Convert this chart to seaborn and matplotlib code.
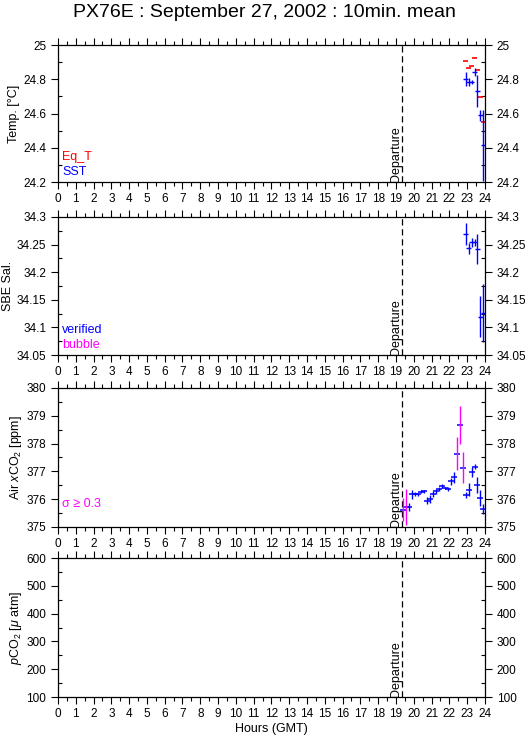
import matplotlib
matplotlib.use("Agg")
import matplotlib.pyplot as plt
import seaborn as sns
from matplotlib.ticker import MultipleLocator, FuncFormatter

# valeurs
departure = 19.33
hours_tsg = [22.92, 23.08, 23.25, 23.42, 23.58, 23.75, 23.92]
eq_temp = [24.907, 24.865, 24.878, 24.923, 24.853, 24.697, 24.552]
sst = [24.801, 24.782, 24.784, 24.842, 24.733, 24.590, 24.414]
sst_err = [0.040, 0.023, 0.011, 0.021, 0.094, 0.031, 0.208]
sal = [34.269, 34.243, 34.254, 34.254, 34.242, 34.119, 34.126]
sal_err = [0.020, 0.010, 0.008, 0.006, 0.028, 0.037, 0.053]

hours_air = [19.42, 19.58, 19.75, 19.92, 20.08, 20.25, 20.42, 20.58, 20.75, 20.92,
             21.08, 21.25, 21.42, 21.58, 21.75, 21.92, 22.08, 22.25, 22.42, 22.58,
             22.75, 22.92, 23.08, 23.25, 23.42, 23.58, 23.75, 23.92]
air_co2 = [375.62, 375.72, 375.73, 376.18, 376.18, 376.18, 376.27, 376.28, 375.94, 376.00,
           376.18, 376.28, 376.36, 376.47, 376.40, 376.38, 376.64, 376.79, 377.64, 378.67,
           377.13, 376.15, 376.34, 376.99, 377.17, 376.51, 376.04, 375.64]
air_err = [0.42, 0.65, 0.15, 0.16, 0.07, 0.06, 0.05, 0.05, 0.13, 0.14,
           0.11, 0.09, 0.07, 0.07, 0.05, 0.07, 0.13, 0.20, 0.58, 0.67,
           0.56, 0.10, 0.24, 0.18, 0.08, 0.28, 0.29, 0.19]

hour_ticks = list(range(0, 25))
dash_half = 0.13  # demi-largeur des tirets horizontaux (heures)

RED = "#ff0000"
BLUE = "#0000ff"
MAGENTA = "#ff00ff"

sns.set_style("ticks", {"axes.edgecolor": "black", "xtick.color": "black",
                        "ytick.color": "black", "text.color": "black",
                        "axes.labelcolor": "black"})
plt.rcParams['font.family'] = ['Liberation Sans', 'DejaVu Sans']
plt.rcParams['mathtext.fontset'] = 'custom'
plt.rcParams['mathtext.rm'] = 'Liberation Sans'
plt.rcParams['mathtext.it'] = 'Liberation Sans:italic'

fig = plt.figure(figsize=(5.29, 7.39), dpi=100)
left, width = 0.1096, 0.807
boxes = [(0.7537, 0.1854), (0.5196, 0.1868), (0.2869, 0.1881), (0.0568, 0.1881)]
axes = [fig.add_axes([left, b, width, h]) for b, h in boxes]

ylims = [(24.2, 25), (34.05, 34.3), (375, 380), (100, 600)]
ymajor = [0.2, 0.05, 1, 100]
yminor = [0.1, 0.025, 0.5, 50]
ylabels = ["Temp. [°C]", "SBE Sal.", r"Air $\mathit{x}$CO$_2$ [ppm]",
           r"$\mathit{p}$CO$_2$ [$\mu$ atm]"]

for ax, yl, mj, mn, lab in zip(axes, ylims, ymajor, yminor, ylabels):
    ax.set_xlim(0, 24)
    ax.set_ylim(*yl)
    ax.xaxis.set_minor_locator(MultipleLocator(0.5))
    ax.set_xticks(hour_ticks)
    ax.set_xticklabels([str(h) for h in hour_ticks])
    ax.yaxis.set_major_locator(MultipleLocator(mj))
    ax.yaxis.set_minor_locator(MultipleLocator(mn))
    ax.yaxis.set_major_formatter(FuncFormatter(lambda v, p: "%g" % round(v, 3)))
    ax.tick_params(axis='x', which='both', top=True, bottom=True, direction='out',
                   labelsize=8.5, pad=3)
    ax.tick_params(axis='x', which='major', length=5, width=0.8)
    ax.tick_params(axis='x', which='minor', length=3, width=0.8)
    ax.tick_params(axis='y', which='both', left=True, right=True,
                   labelleft=True, labelright=True, labelsize=8.5)
    ax.tick_params(axis='y', which='major', direction='out', length=5, width=0.8)
    ax.tick_params(axis='y', which='minor', direction='in', length=3, width=0.8)
    for s in ax.spines.values():
        s.set_visible(True)
        s.set_linewidth(0.9)
    ax.set_ylabel(lab, fontsize=9, labelpad=2)
    ax.axvline(departure, color="black", ls=(0, (5, 3)), lw=0.9)
    ax.text(departure, yl[0], "Departure", rotation=90, ha='right', va='bottom',
            fontsize=9)

# panneau 1 : temperatures
ax = axes[0]
ax.errorbar(hours_tsg, eq_temp, xerr=dash_half, fmt='none', ecolor=RED, elinewidth=1.2)
ax.errorbar(hours_tsg, sst, xerr=dash_half, yerr=sst_err, fmt='none', ecolor=BLUE,
            elinewidth=1)
ax.text(0.01, 0.18, "Eq_T", color=RED, transform=ax.transAxes, fontsize=9, va='center')
ax.text(0.01, 0.07, "SST", color=BLUE, transform=ax.transAxes, fontsize=9, va='center')

# panneau 2 : salinite
ax = axes[1]
ax.errorbar(hours_tsg, sal, xerr=dash_half, yerr=sal_err, fmt='none', ecolor=BLUE,
            elinewidth=1)
ax.text(0.01, 0.18, "verified", color=BLUE, transform=ax.transAxes, fontsize=9, va='center')
ax.text(0.01, 0.07, "bubble", color=MAGENTA, transform=ax.transAxes, fontsize=9, va='center')

# panneau 3 : xCO2 air (barre magenta si sigma >= 0.3)
ax = axes[2]
err_colors = [MAGENTA if e >= 0.3 else BLUE for e in air_err]
ax.vlines(hours_air, [v - e for v, e in zip(air_co2, air_err)],
          [v + e for v, e in zip(air_co2, air_err)], colors=err_colors, lw=1)
sns.scatterplot(x=hours_air, y=air_co2, marker="_", s=16, color=BLUE, linewidth=1.1, ax=ax)
ax.text(0.01, 0.165, "σ ≥ 0.3", color=MAGENTA, transform=ax.transAxes, fontsize=9,
        va='center')

axes[3].set_xlabel("Hours (GMT)", fontsize=9, labelpad=2)

fig.suptitle("PX76E : September 27, 2002 : 10min. mean", fontsize=14, y=0.995)

plt.savefig("out.png", dpi=100)
